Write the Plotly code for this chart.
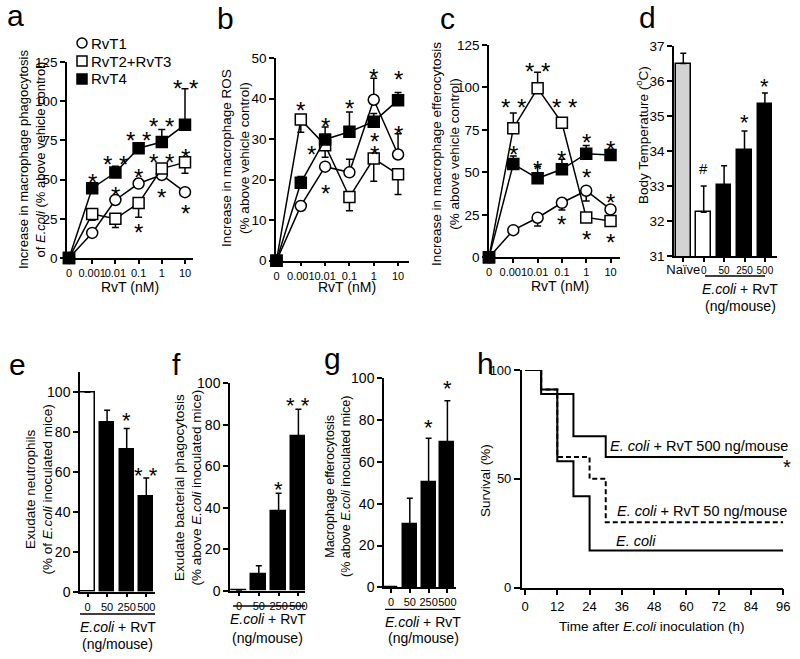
import plotly.graph_objects as go

FONT = "Liberation Sans, Arial, sans-serif"
W, H = 800, 659

# ---------------- data ----------------
rvt_doses = ["0", "0.001", "0.01", "0.1", "1", "10"]
rvt_names = ["RvT1", "RvT2+RvT3", "RvT4"]

# a: macrophage phagocytosis of E.coli (% above vehicle)
a_rvt1 = [0, 16, 37, 47.5, 53, 42]
a_rvt1_up = [0, 0, 0, 3, 0, 0]
a_rvt1_dn = [0, 2, 0, 0, 3, 0]
a_rvt23 = [0, 28, 25, 35, 57, 61]
a_rvt23_up = [0, 0, 0, 0, 0, 0]
a_rvt23_dn = [0, 4, 5.5, 9, 3, 7]
a_rvt4 = [0, 44.5, 54.5, 70, 74, 85]
a_rvt4_up = [0, 3, 4, 3, 8, 23]
a_rvt4_dn = [0, 0, 0, 0, 0, 0]
a_stars = [(1, 52, "*"), (2, 63.6, "**"), (3, 78.4, "**"), (4, 87.3, "**"), (5, 111.7, "**"),
           (2, 43.4, "*"), (3, 55, "*"), (4, 64.6, "**"), (4, 42.4, "*"), (5, 67.8, "*"),
           (5, 31.8, "*"), (3, 20.1, "*")]

# b: macrophage ROS
b_rvt1 = [0, 13.5, 23.2, 21.8, 39.7, 26.2]
b_rvt1_up = [0, 0, 0, 3.2, 5.3, 5.1]
b_rvt1_dn = [0, 0, 0, 0, 0, 0]
b_rvt23 = [0, 34.8, 28.5, 15.7, 25.2, 21.3]
b_rvt23_up = [0, 0, 0, 0, 0, 0]
b_rvt23_dn = [0, 3.1, 3, 3.4, 5.6, 5]
b_rvt4 = [0, 19.2, 29.9, 31.8, 34.3, 39.6]
b_rvt4_up = [0, 1.6, 3.1, 4.9, 2, 1.9]
b_rvt4_dn = [0, 0, 0, 0, 0, 0]
b_stars = [(1, 38.5, "*"), (2, 34.6, "*"), (1.45, 27.6, "*"), (2, 18, "*"), (3, 39, "*"),
           (4, 46.6, "*"), (4.05, 30.9, "*"), (4.05, 27.6, "*"), (5, 46.2, "*"), (5, 32.5, "*")]

# c: macrophage efferocytosis
c_rvt1 = [0, 16, 23.3, 32.1, 39.2, 28.2]
c_rvt1_up = [0, 0, 0, 0, 0, 1.5]
c_rvt1_dn = [0, 0, 4.9, 4.3, 6.1, 0]
c_rvt23 = [0, 76, 99.5, 79.2, 23.5, 21.4]
c_rvt23_up = [0, 9, 9.4, 2.5, 0, 0]
c_rvt23_dn = [0, 0, 0, 0, 0, 0]
c_rvt4 = [0, 54.9, 46.5, 51.8, 61, 60.2]
c_rvt4_up = [0, 4.7, 6.9, 5.9, 4.9, 3.3]
c_rvt4_dn = [0, 0, 0, 0, 0, 0]
c_stars = [(1, 91.6, "**"), (1, 64.2, "*"), (2, 113, "**"), (2, 55.3, "*"), (3.1, 91.6, "**"),
           (3, 61.2, "*"), (3, 23, "*"), (4, 71, "*"), (4, 50.4, "*"), (4, 14, "*"),
           (5, 67, "*"), (5, 35.7, "*"), (5, 12, "*")]

# d: body temperature
d_groups = ["Naïve", "0", "50", "250", "500"]
d_temp = [36.5, 32.25, 33.03, 34.02, 35.33]
d_err = [0.29, 0.75, 0.55, 0.55, 0.33]
d_marks = [(1, 33.5, "#"), (3, 34.96, "*"), (4, 35.99, "*")]

# e, f, g: in vivo, E.coli + RvT (ng/mouse)
dose_ng = ["0", "50", "250", "500"]
e_neut = [100, 84.9, 71.4, 48]
e_err = [0, 6.1, 10.5, 9]
e_stars = [(2, 88.6, "*"), (3, 61, "**")]
f_phago = [0, 7.9, 38.1, 74.6]
f_err = [0, 4.1, 8.9, 12.9]
f_stars = [(2, 51.4, "*"), (3, 91.9, "**")]
g_effero = [0, 30.3, 50.2, 69.2]
g_err = [0, 12.3, 21.1, 20.1]
g_stars = [(2, 79.2, "*"), (3, 97.6, "*")]

# h: survival
h_ticks = [0, 12, 24, 36, 48, 60, 72, 84, 96]
h_t_ecoli = [0, 6, 12, 18, 24, 96]
h_s_ecoli = [100, 91, 58, 42, 17, 17]
h_t_50 = [0, 6, 12, 24, 30, 96]
h_s_50 = [100, 91, 60, 50, 30, 30]
h_t_500 = [0, 6, 18, 30, 96]
h_s_500 = [100, 89, 69.5, 60, 60]


def xp(px):
    return px / W


def yp(py):
    return 1 - py / H


fig = go.Figure()
annotations = []
shapes = []


def axis_pair(n, xdom, ydom, xrange, yrange, ytickvals, xtickvals, xticktext, xfs, yfs):
    common = dict(showline=True, linecolor="black", linewidth=1.5, ticks="outside",
                  tickwidth=1.5, tickcolor="black", showgrid=False, zeroline=False,
                  fixedrange=True, automargin=False)
    fig.layout[f"xaxis{n}"] = dict(common, domain=[xp(xdom[0]), xp(xdom[1])], range=xrange,
                                  anchor=f"y{n}", tickmode="array", tickvals=xtickvals,
                                  ticktext=xticktext, ticklen=4, tickangle=0,
                                  tickfont=dict(family=FONT, size=xfs, color="black"))
    fig.layout[f"yaxis{n}"] = dict(common, domain=[yp(ydom[1]), yp(ydom[0])], range=yrange,
                                  anchor=f"x{n}", tickmode="array", tickvals=ytickvals,
                                  ticklen=5, tickfont=dict(family=FONT, size=yfs, color="black"))


def add_line_panel(n, series):
    symbols = [("circle", "white"), ("square", "white"), ("square", "black")]
    for (vals, up, dn), (sym, fill) in zip(series, symbols):
        fig.add_trace(go.Scatter(
            x=list(range(len(vals))), y=vals, mode="lines+markers",
            xaxis=f"x{n}", yaxis=f"y{n}", cliponaxis=False, showlegend=False,
            line=dict(color="black", width=1.5),
            marker=dict(symbol=sym, size=11, color=fill, line=dict(color="black", width=1.5)),
            error_y=dict(type="data", symmetric=False, array=up, arrayminus=dn,
                         color="black", thickness=1.5, width=3.5)))


def add_bar_panel(n, vals, err, colors, width):
    fig.add_trace(go.Bar(
        x=list(range(len(vals))), y=vals, xaxis=f"x{n}", yaxis=f"y{n}", width=width,
        showlegend=False, marker=dict(color=colors, line=dict(color="black", width=1.5)),
        error_y=dict(type="data", symmetric=False, array=err, arrayminus=[0] * len(err),
                     color="black", thickness=1.5, width=3)))


def add_stars(n, stars, size):
    for x, y, t in stars:
        annotations.append(dict(x=x, y=y, xref=f"x{n}", yref=f"y{n}", showarrow=False,
                                text=t.replace("**", "* *"), yshift=-size * 0.24,
                                font=dict(family=FONT, size=size, color="black")))


def text(px, py, t, size=13.5, angle=0, xanchor="center"):
    annotations.append(dict(x=xp(px), y=yp(py), xref="paper", yref="paper", text=t,
                            showarrow=False, textangle=angle, xanchor=xanchor,
                            yanchor="middle", font=dict(family=FONT, size=size, color="black")))


idx6 = list(range(6))
# a
axis_pair(1, (67, 193), (62, 258), [-0.086, 5.345], [0, 125], [0, 25, 50, 75, 100, 125],
          idx6, rvt_doses, 11, 13.5)
add_line_panel(1, [(a_rvt1, a_rvt1_up, a_rvt1_dn), (a_rvt23, a_rvt23_up, a_rvt23_dn),
                   (a_rvt4, a_rvt4_up, a_rvt4_dn)])
add_stars(1, a_stars, 24)
# b
axis_pair(2, (276, 409), (58, 260.7), [-0.02, 5.45], [0, 50], [0, 10, 20, 30, 40, 50],
          idx6, rvt_doses, 11, 13.5)
add_line_panel(2, [(b_rvt1, b_rvt1_up, b_rvt1_dn), (b_rvt23, b_rvt23_up, b_rvt23_dn),
                   (b_rvt4, b_rvt4_up, b_rvt4_dn)])
add_stars(2, b_stars, 24)
# c
axis_pair(3, (489, 620), (45, 257.3), [0, 5.39], [0, 125], [0, 25, 50, 75, 100, 125],
          idx6, rvt_doses, 11, 13.5)
add_line_panel(3, [(c_rvt1, c_rvt1_up, c_rvt1_dn), (c_rvt23, c_rvt23_up, c_rvt23_dn),
                   (c_rvt4, c_rvt4_up, c_rvt4_dn)])
add_stars(3, c_stars, 24)
# d
d_ticktext = [f"<span style='font-size:13px'>{d_groups[0]}</span>"] + d_groups[1:]
axis_pair(4, (674, 777), (46, 256), [-0.456, 4.593], [31, 37], list(range(31, 38)),
          list(range(5)), d_ticktext, 10, 13.5)
add_bar_panel(4, d_temp, d_err, ["#d3d3d3", "white", "black", "black", "black"], 0.71)
add_stars(4, [m for m in d_marks if m[2] != "#"], 22)
for x, y, t in d_marks:
    if t == "#":
        annotations.append(dict(x=x, y=y, xref="x4", yref="y4", text=t, showarrow=False,
                                font=dict(family=FONT, size=15, color="black")))
# e
axis_pair(5, (80, 155), (372.4, 591.7), [-0.383, 3.444], [0, 110], [0, 20, 40, 60, 80, 100],
          list(range(4)), dose_ng, 11, 14)
add_bar_panel(5, e_neut, e_err, ["white", "black", "black", "black"], 0.72)
add_stars(5, e_stars, 22)
# f
axis_pair(6, (230, 305), (383.3, 590.7), [-0.4545, 3.333], [0, 100], [0, 20, 40, 60, 80, 100],
          list(range(4)), dose_ng, 11, 14)
add_bar_panel(6, f_phago, f_err, ["black"] * 4, 0.76)
add_stars(6, f_stars, 22)
# g
axis_pair(7, (384, 456), (378.3, 587.3), [-0.372, 3.457], [0, 100], [0, 20, 40, 60, 80, 100],
          list(range(4)), dose_ng, 11, 14)
add_bar_panel(7, g_effero, g_err, ["black"] * 4, 0.74)
add_stars(7, g_stars, 22)
# h
axis_pair(8, (521.7, 783.3), (370, 587.5), [-1.23, 96], [0, 100], [0, 50, 100],
          h_ticks, [str(t) for t in h_ticks], 13, 13)
fig.layout.xaxis8.ticklen = 6
fig.layout.yaxis8.ticklen = 6
for t, s, dash in [(h_t_50, h_s_50, "5px,3px"), (h_t_ecoli, h_s_ecoli, "solid"),
                   (h_t_500, h_s_500, "solid")]:
    fig.add_trace(go.Scatter(x=t, y=s, mode="lines", xaxis="x8", yaxis="y8", showlegend=False,
                             cliponaxis=False,
                             line=dict(shape="hv", color="black", width=2, dash=dash)))

# panel letters
for lt, px, py in [("a", 5, 16), ("b", 215, 19), ("c", 438, 19), ("d", 637, 18),
                   ("e", 7, 364), ("f", 170, 364), ("g", 322, 359), ("h", 475, 363)]:
    text(px, py, lt, size=30, xanchor="left")

# axis titles
text(32, 160, "Increase in macrophage phagocytosis<br>of <i>E.coli</i> (% above vehicle control)",
     angle=-90, size=13)
text(236, 158, "Increase in macrophage ROS<br>(% above vehicle control)", angle=-90)
text(446, 154, "Increase in macrophage efferocytosis<br>(% above vehicle control)", angle=-90)
text(642, 135, "Body Temperature (<sup>o</sup>C)", angle=-90)
text(130, 287, "RvT (nM)", size=14)
text(347, 287, "RvT (nM)", size=14)
text(560, 286, "RvT (nM)", size=14)
text(39.5, 490, "Exudate neutrophils<br>(% of <i>E.coli</i> inoculated mice)", angle=-90)
text(188.5, 488, "Exudate bacterial phagocytosis<br>(% above <i>E.coli</i> inoculated mice)",
     angle=-90)
text(338, 487, "Macrophage efferocytosis<br>(% above <i>E.coli</i> inoculated mice)", angle=-90,
     size=12.5)
text(485, 480, "Survival (%)", angle=-90)
text(652, 626, "Time after <i>E.coli</i> inoculation (h)")

# E.coli + RvT group labels
for (x0, x1, yl), cx, y1, y2 in [((705, 765, 276), 740, 289, 306),
                                 ((80, 155, 614), 117.5, 627, 644),
                                 ((233, 305, 606), 267.5, 619, 638),
                                 ((385, 455, 609.3), 423, 622, 638.3)]:
    shapes.append(dict(type="line", xref="paper", yref="paper", x0=xp(x0), x1=xp(x1),
                       y0=yp(yl), y1=yp(yl), line=dict(color="black", width=1.3)))
    text(cx, y1, "<i>E.coli</i> + RvT", size=14)
    text(cx, y2, "(ng/mouse)", size=14)

# survival curve labels
text(608, 446, "<i>E. coli</i> + RvT 500 ng/mouse", size=14.5, xanchor="left")
text(615, 511, "<i>E. coli</i> + RvT 50 ng/mouse", size=14.5, xanchor="left")
text(614, 541, "<i>E. coli</i>", size=14.5, xanchor="left")
text(787, 467, "*", size=20)

# legend for panel a
for i, (name, sym, fill) in enumerate(zip(rvt_names, ["circle", "rect", "rect"],
                                          ["white", "white", "black"])):
    cy = 43 + 18 * i
    shapes.append(dict(type=sym, xref="paper", yref="paper", x0=xp(77), x1=xp(87),
                       y0=yp(cy + 5), y1=yp(cy - 5), fillcolor=fill,
                       line=dict(color="black", width=1.5)))
    text(89, cy, name, size=15, xanchor="left")

fig.update_layout(template="none", width=W, height=H, margin=dict(l=0, r=0, t=0, b=0),
                  paper_bgcolor="white", plot_bgcolor="white",
                  annotations=annotations, shapes=shapes, bargap=0,
                  font=dict(family=FONT, color="black"))
# the page body has a default 8px margin; remove it so the figure fills the window
fig.write_html("out.html", config={"displayModeBar": False},
               post_script="document.body.style.margin='0px';")
